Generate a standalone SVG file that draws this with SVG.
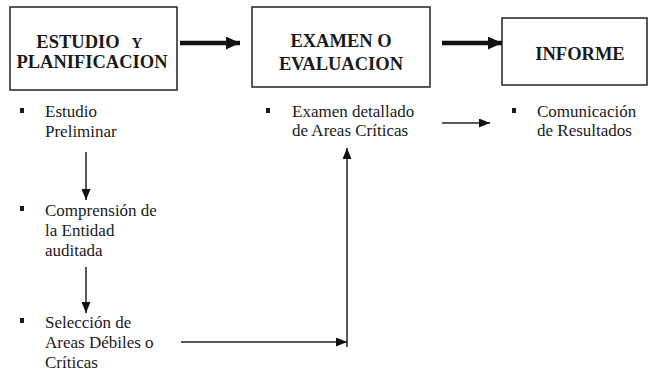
<svg xmlns="http://www.w3.org/2000/svg" width="649" height="373" viewBox="0 0 649 373">
<defs>
<style>
.box{fill:#fff;stroke:#222;stroke-width:1.5}
.title{font-family:"Liberation Serif",serif;font-weight:bold;font-size:18.5px;fill:#1a1a1a;text-anchor:middle}
.bullet{fill:#1a1a1a}
.thin{fill:none;stroke:#222;stroke-width:1.5}
.thick{fill:none;stroke:#111;stroke-width:4.5}
</style>
<marker id="ah" markerUnits="userSpaceOnUse" markerWidth="11" markerHeight="9" refX="11" refY="4.5" orient="auto">
<path d="M0,0 L11,4.5 L0,9 z" fill="#111"/>
</marker>
<marker id="ahb" markerUnits="userSpaceOnUse" markerWidth="14" markerHeight="13" refX="14" refY="6.5" orient="auto">
<path d="M0,0 L14,6.5 L0,13 z" fill="#111"/>
</marker>
</defs>
<rect width="649" height="373" fill="#fff"/>

<g id="node-estudio">
<rect class="box" x="10" y="7" width="167" height="83"/>
<text class="title" x="78" y="48">ESTUDIO</text>
<text class="title" x="137" y="48" style="font-variant:small-caps;font-size:21px">y</text>
<text class="title" x="92" y="68">PLANIFICACION</text>
</g>

<g id="node-examen">
<rect class="box" x="252" y="7" width="178" height="80"/>
<text class="title" x="341" y="47">EXAMEN O</text>
<text class="title" x="341" y="70">EVALUACION</text>
</g>

<g id="node-informe">
<rect class="box" x="502" y="18" width="145" height="67"/>
<text class="title" x="580" y="60">INFORME</text>
</g>

<g font-family="Liberation Serif, serif" font-size="17" fill="#1a1a1a">
<g id="item-estudio-preliminar">
<rect class="bullet" x="20" y="108" width="4" height="5"/>
<text x="45" y="117">Estudio</text>
<text x="45" y="137">Preliminar</text>
</g>

<g id="item-comprension">
<rect class="bullet" x="20" y="206" width="4" height="5"/>
<text x="45" y="216">Comprensión de</text>
<text x="45" y="236">la Entidad</text>
<text x="45" y="256">auditada</text>
</g>

<g id="item-seleccion">
<rect class="bullet" x="20" y="318" width="4" height="5"/>
<text x="45" y="328">Selección de</text>
<text x="45" y="348">Areas Débiles o</text>
<text x="45" y="368">Críticas</text>
</g>

<g id="item-examen-detallado">
<rect class="bullet" x="266" y="108" width="4" height="5"/>
<text x="292" y="117">Examen detallado</text>
<text x="292" y="136">de Areas Críticas</text>
</g>

<g id="item-comunicacion">
<rect class="bullet" x="512" y="108" width="4" height="5"/>
<text x="537" y="117">Comunicación</text>
<text x="537" y="136">de Resultados</text>
</g>
</g>

<g id="connectors">
<path class="thick" d="M180,43 H240" marker-end="url(#ahb)"/>
<path class="thick" d="M442,43 H502" marker-end="url(#ahb)"/>
<path class="thin" d="M86,152 V200" marker-end="url(#ah)"/>
<path class="thin" d="M86,267 V313" marker-end="url(#ah)"/>
<path class="thin" d="M181,342 H347" marker-end="url(#ah)"/>
<path class="thin" d="M347,347 V148" marker-end="url(#ah)"/>
<path class="thin" d="M442,123 H490" marker-end="url(#ah)"/>
</g>
</svg>
